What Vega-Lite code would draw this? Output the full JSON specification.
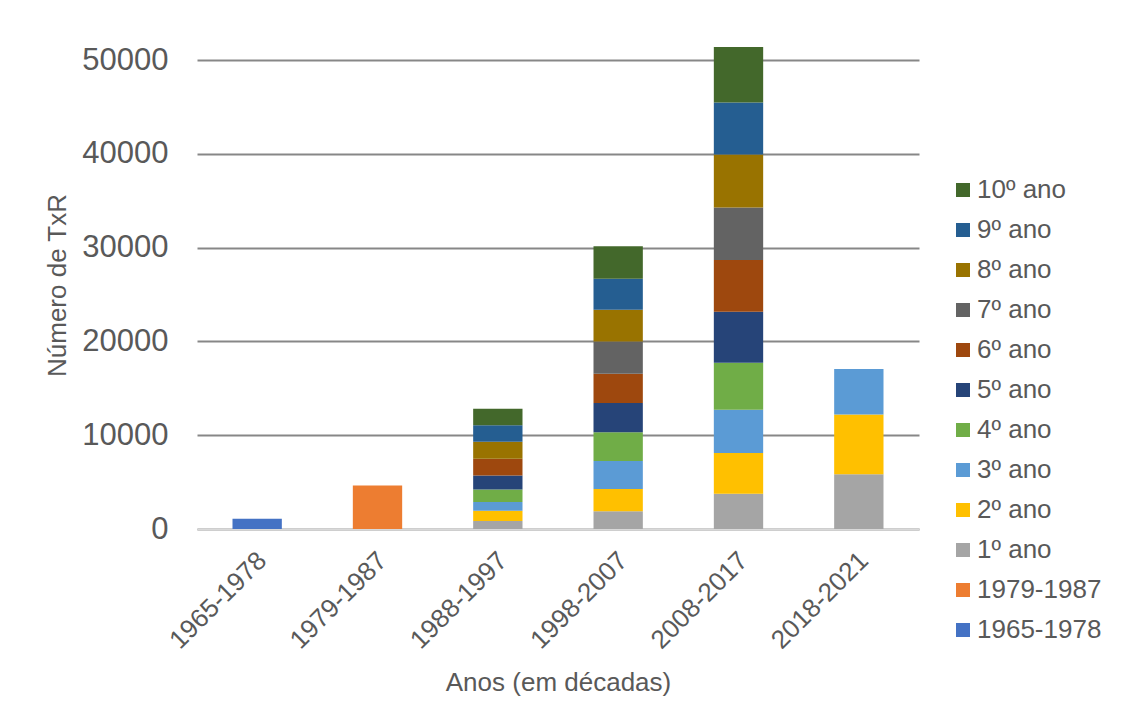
{
  "$schema": "https://vega.github.io/schema/vega-lite/v6.json",
  "autosize": "none",
  "width": 722,
  "height": 469,
  "padding": {"left": 197, "top": 60, "right": 210, "bottom": 192},
  "background": "white",
  "config": {
    "font": "Liberation Sans",
    "view": {"stroke": null},
    "axis": {"labelColor": "#595959", "titleColor": "#595959", "titleFontWeight": "normal"}
  },
  "data": {
    "values": [
      {"periodo": "1965-1978", "serie": "1965-1978", "valor": 1100},
      {"periodo": "1979-1987", "serie": "1979-1987", "valor": 4630},
      {"periodo": "1988-1997", "serie": "1º ano", "valor": 850},
      {"periodo": "1988-1997", "serie": "2º ano", "valor": 1100},
      {"periodo": "1988-1997", "serie": "3º ano", "valor": 930},
      {"periodo": "1988-1997", "serie": "4º ano", "valor": 1320},
      {"periodo": "1988-1997", "serie": "5º ano", "valor": 1500},
      {"periodo": "1988-1997", "serie": "6º ano", "valor": 1780},
      {"periodo": "1988-1997", "serie": "8º ano", "valor": 1810},
      {"periodo": "1988-1997", "serie": "9º ano", "valor": 1780},
      {"periodo": "1988-1997", "serie": "10º ano", "valor": 1740},
      {"periodo": "1998-2007", "serie": "1º ano", "valor": 1890},
      {"periodo": "1998-2007", "serie": "2º ano", "valor": 2380},
      {"periodo": "1998-2007", "serie": "3º ano", "valor": 2990},
      {"periodo": "1998-2007", "serie": "4º ano", "valor": 3060},
      {"periodo": "1998-2007", "serie": "5º ano", "valor": 3100},
      {"periodo": "1998-2007", "serie": "6º ano", "valor": 3130},
      {"periodo": "1998-2007", "serie": "7º ano", "valor": 3450},
      {"periodo": "1998-2007", "serie": "8º ano", "valor": 3380},
      {"periodo": "1998-2007", "serie": "9º ano", "valor": 3310},
      {"periodo": "1998-2007", "serie": "10º ano", "valor": 3450},
      {"periodo": "2008-2017", "serie": "1º ano", "valor": 3770},
      {"periodo": "2008-2017", "serie": "2º ano", "valor": 4340},
      {"periodo": "2008-2017", "serie": "3º ano", "valor": 4590},
      {"periodo": "2008-2017", "serie": "4º ano", "valor": 5020},
      {"periodo": "2008-2017", "serie": "5º ano", "valor": 5440},
      {"periodo": "2008-2017", "serie": "6º ano", "valor": 5520},
      {"periodo": "2008-2017", "serie": "7º ano", "valor": 5590},
      {"periodo": "2008-2017", "serie": "8º ano", "valor": 5660},
      {"periodo": "2008-2017", "serie": "9º ano", "valor": 5550},
      {"periodo": "2008-2017", "serie": "10º ano", "valor": 5910},
      {"periodo": "2018-2021", "serie": "1º ano", "valor": 5840},
      {"periodo": "2018-2021", "serie": "2º ano", "valor": 6370},
      {"periodo": "2018-2021", "serie": "3º ano", "valor": 4840}
    ]
  },
  "transform": [
    {"calculate": "indexof(['1965-1978','1979-1987','1º ano','2º ano','3º ano','4º ano','5º ano','6º ano','7º ano','8º ano','9º ano','10º ano'], datum.serie)", "as": "ordem"}
  ],
  "mark": {"type": "bar", "clip": false},
  "encoding": {
    "x": {
      "field": "periodo",
      "type": "nominal",
      "sort": ["1965-1978", "1979-1987", "1988-1997", "1998-2007", "2008-2017", "2018-2021"],
      "scale": {"paddingInner": 0.59, "paddingOuter": 0.295},
      "axis": {
        "title": "Anos (em décadas)",
        "titleFontSize": 26,
        "titleY": 161,
        "titleBaseline": "alphabetic",
        "labelAngle": -45,
        "labelFontSize": 26,
        "labelPadding": 18,
        "labelOffset": -4,
        "ticks": false,
        "tickSize": 0,
        "domainColor": "#D9D9D9",
        "domainWidth": 2,
        "grid": false
      }
    },
    "y": {
      "field": "valor",
      "type": "quantitative",
      "aggregate": "sum",
      "stack": "zero",
      "scale": {"domain": [0, 50000], "nice": false},
      "axis": {
        "title": "Número de TxR",
        "titleFontSize": 26,
        "titleX": -140,
        "titleY": 225,
        "titleBaseline": "middle",
        "values": [0, 10000, 20000, 30000, 40000, 50000],
        "format": "d",
        "labelFontSize": 31,
        "labelPadding": 29,
        "ticks": false,
        "tickSize": 0,
        "domain": false,
        "gridColor": "#878787",
        "gridWidth": 2
      }
    },
    "color": {
      "field": "serie",
      "type": "nominal",
      "sort": ["10º ano", "9º ano", "8º ano", "7º ano", "6º ano", "5º ano", "4º ano", "3º ano", "2º ano", "1º ano", "1979-1987", "1965-1978"],
      "scale": {
        "domain": ["10º ano", "9º ano", "8º ano", "7º ano", "6º ano", "5º ano", "4º ano", "3º ano", "2º ano", "1º ano", "1979-1987", "1965-1978"],
        "range": ["#43682B", "#255E91", "#997300", "#636363", "#9E480E", "#264478", "#70AD47", "#5B9BD5", "#FFC000", "#A5A5A5", "#ED7D31", "#4472C4"]
      },
      "legend": {
        "title": null,
        "orient": "none",
        "legendX": 753,
        "legendY": 117,
        "padding": 0,
        "symbolType": "square",
        "symbolSize": 196,
        "symbolStrokeWidth": 0,
        "labelFontSize": 26,
        "labelColor": "#595959",
        "labelOffset": 1,
        "rowPadding": 14
      }
    },
    "order": {"field": "ordem", "type": "quantitative", "sort": "ascending"}
  }
}
